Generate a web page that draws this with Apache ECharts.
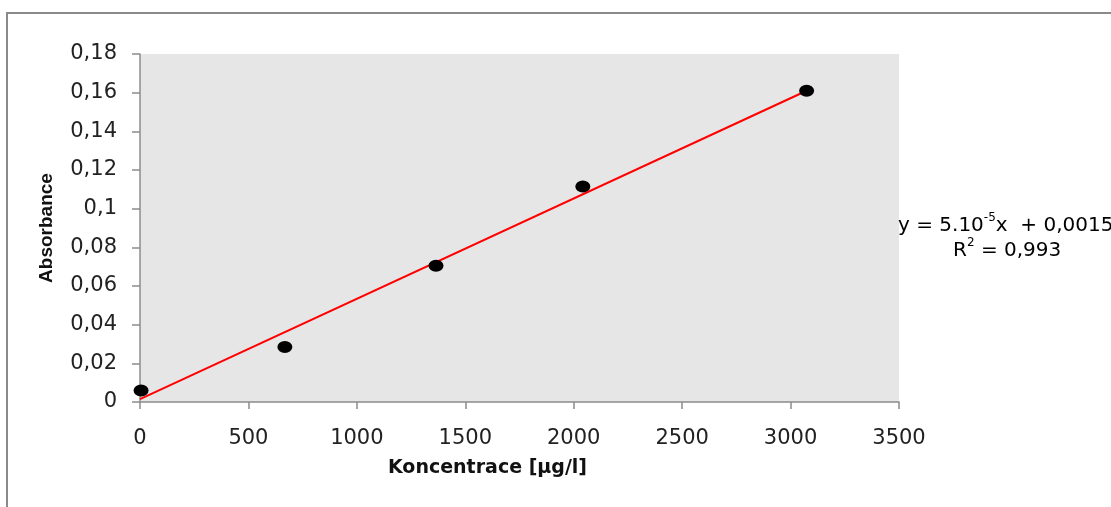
<!DOCTYPE html>
<html>
<head>
<meta charset="utf-8">
<script src="https://cdn.jsdelivr.net/npm/echarts@6/dist/echarts.min.js"></script>
<style>
html,body{margin:0;padding:0;background:#fff;}
#chart{width:1111px;height:507px;}
</style>
</head>
<body>
<div id="chart"></div>
<script>
// Data
var concentrations = [5, 668, 1365, 2042, 3074];
var absorbances = [0.006, 0.0285, 0.0705, 0.1115, 0.161];
var trendX = [0, 3074];
var trendY = [0.0015, 0.161];
var yTickLabels = ['0', '0,02', '0,04', '0,06', '0,08', '0,1', '0,12', '0,14', '0,16', '0,18'];
var xTickLabels = ['0', '500', '1000', '1500', '2000', '2500', '3000', '3500'];
var xAxisTitle = 'Koncentrace [µg/l]';
var yAxisTitle = 'Absorbance';

var chart = echarts.init(document.getElementById('chart'), null, {renderer: 'canvas'});

var points = concentrations.map(function (c, i) { return [c, absorbances[i]]; });
var trend = trendX.map(function (x, i) { return [x, trendY[i]]; });

var tickFont = {fontFamily: 'DejaVu Sans', fontSize: 21, color: '#222'};

chart.setOption({
  animation: false,
  backgroundColor: '#ffffff',
  grid: {left: 140, top: 54, right: 212, bottom: 105, show: true, backgroundColor: '#e6e6e6', borderWidth: 0},
  xAxis: {
    type: 'value', min: 0, max: 3500, interval: 500,
    name: xAxisTitle, nameLocation: 'middle', nameGap: 57,
    nameTextStyle: {fontFamily: 'DejaVu Sans', fontWeight: 'bold', fontSize: 19, color: '#111', padding: [0, 64, 0, 0]},
    axisLine: {show: true, lineStyle: {color: '#8c8c8c', width: 1.5}},
    axisTick: {show: true, length: 7, lineStyle: {color: '#8c8c8c', width: 1.5}},
    axisLabel: Object.assign({
      margin: 26,
      formatter: function (v) { return xTickLabels[Math.round(v / 500)]; }
    }, tickFont),
    splitLine: {show: false}
  },
  yAxis: {
    type: 'value', min: 0, max: 0.18, interval: 0.02,
    name: yAxisTitle, nameLocation: 'middle', nameGap: 84, nameRotate: 90,
    nameTextStyle: {fontFamily: 'Liberation Sans', fontWeight: 'bold', fontSize: 19, color: '#111'},
    axisLine: {show: true, lineStyle: {color: '#8c8c8c', width: 1.5}},
    axisTick: {show: true, length: 8, lineStyle: {color: '#8c8c8c', width: 1.5}},
    axisLabel: Object.assign({
      margin: 23,
      formatter: function (v) { return yTickLabels[Math.round(v / 0.02)]; }
    }, tickFont),
    splitLine: {show: false}
  },
  series: [
    {
      type: 'line', data: trend, symbol: 'none', silent: true,
      lineStyle: {color: '#ff0000', width: 2}, z: 2
    },
    {
      type: 'scatter', data: points, symbol: 'circle', symbolSize: [15, 12],
      itemStyle: {color: '#000000', opacity: 1}, z: 3
    }
  ],
  graphic: [
    {
      type: 'rect', silent: true, z: 100,
      shape: {x: 7, y: 13, width: 1300, height: 700},
      style: {fill: 'none', stroke: '#8a8a8a', lineWidth: 2}
    },
    {
      type: 'text', left: 898, top: 212, z: 100,
      style: {
        text: '{a|y = 5.10}{s|-5}{a|x  + 0,0015}',
        rich: {
          a: {fontFamily: 'DejaVu Sans', fontSize: 20, color: '#222', lineHeight: 24, verticalAlign: 'bottom'},
          s: {fontFamily: 'DejaVu Sans', fontSize: 12, color: '#222', lineHeight: 24, verticalAlign: 'top'}
        }
      }
    },
    {
      type: 'text', left: 953, top: 237, z: 100,
      style: {
        text: '{a|R}{s|2}{a| = 0,993}',
        rich: {
          a: {fontFamily: 'DejaVu Sans', fontSize: 20, color: '#222', lineHeight: 24, verticalAlign: 'bottom'},
          s: {fontFamily: 'DejaVu Sans', fontSize: 12, color: '#222', lineHeight: 24, verticalAlign: 'top'}
        }
      }
    }
  ]
});
</script>
</body>
</html>
